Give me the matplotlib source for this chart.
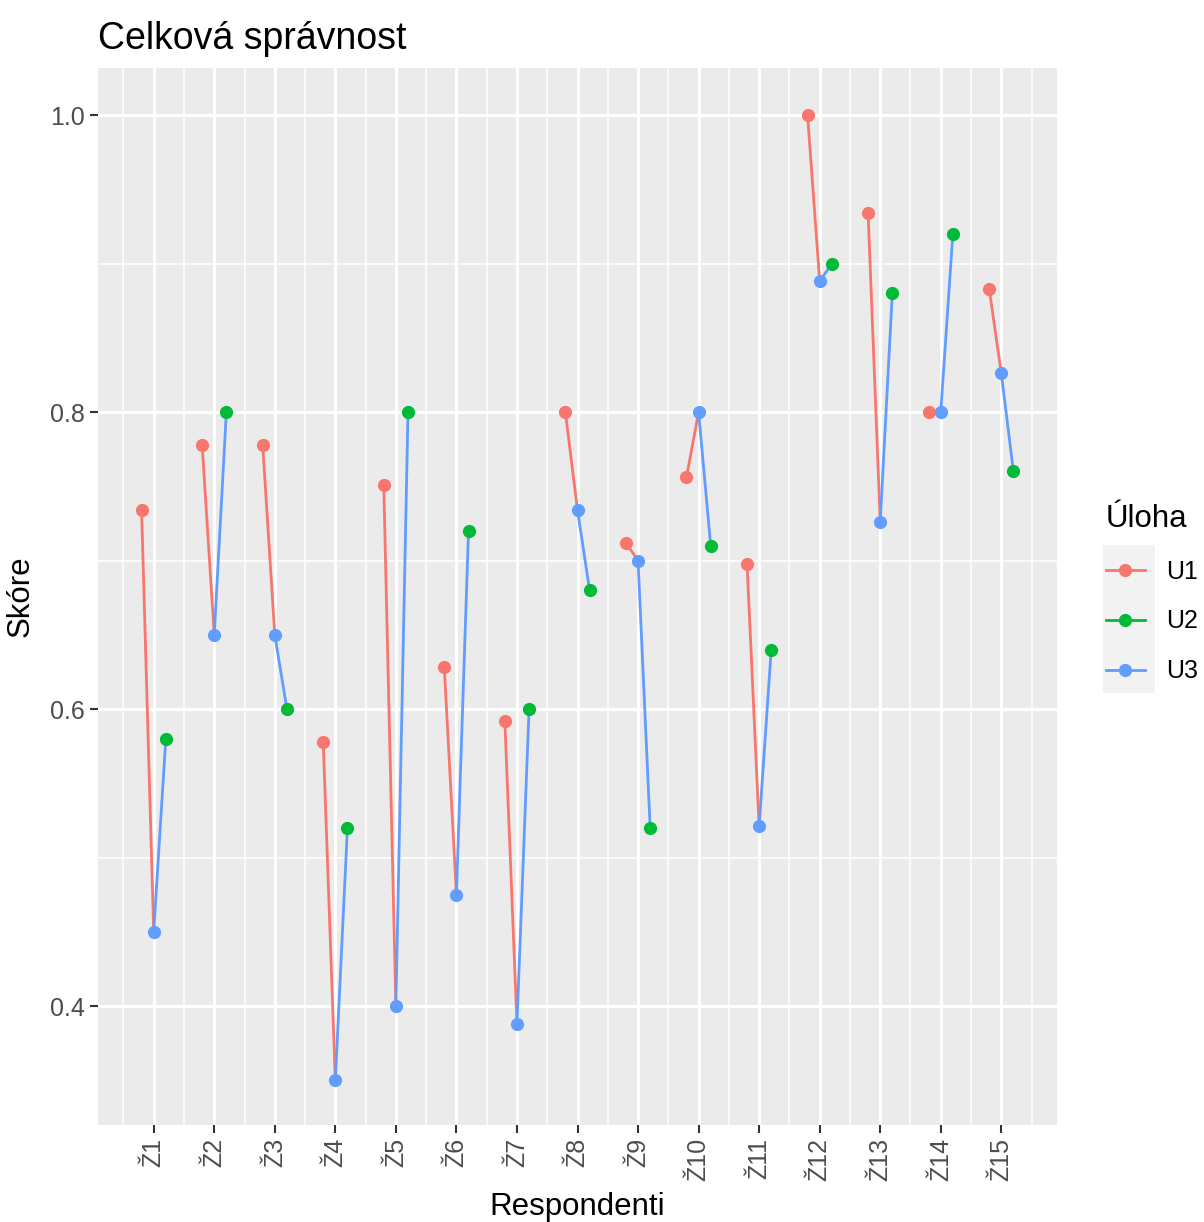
import matplotlib
matplotlib.use("Agg")
import matplotlib.pyplot as plt
from matplotlib.lines import Line2D
from matplotlib.patches import Rectangle
import numpy as np

plt.rcParams['font.family'] = ['Liberation Sans', 'DejaVu Sans']

respondents = ["Ž1", "Ž2", "Ž3", "Ž4", "Ž5", "Ž6", "Ž7", "Ž8", "Ž9", "Ž10",
               "Ž11", "Ž12", "Ž13", "Ž14", "Ž15"]
u1 = [0.734, 0.778, 0.778, 0.578, 0.751, 0.628, 0.592, 0.800, 0.712, 0.756,
      0.698, 1.000, 0.934, 0.800, 0.883]
u2 = [0.580, 0.800, 0.600, 0.520, 0.800, 0.720, 0.600, 0.680, 0.520, 0.710,
      0.640, 0.900, 0.880, 0.920, 0.760]
u3 = [0.450, 0.650, 0.650, 0.350, 0.400, 0.475, 0.388, 0.734, 0.700, 0.800,
      0.521, 0.888, 0.726, 0.800, 0.826]
tasks = ["U1", "U2", "U3"]
colors = {"U1": "#F8766D", "U2": "#00BA38", "U3": "#619CFF"}
offsets = {"U1": -0.2, "U2": 0.2, "U3": 0.0}

fig = plt.figure(figsize=(12.04, 12.22), dpi=100)
ax = fig.add_axes([98/1204, 1-1125/1222, (1057-98)/1204, (1125-68)/1222])
ax.set_facecolor("#EBEBEB")

x = np.arange(1, len(respondents) + 1)
vals = {"U1": np.array(u1), "U2": np.array(u2), "U3": np.array(u3)}
xs = {k: x + offsets[k] for k in tasks}

lw = 2.0
for i in range(len(x)):
    ax.plot([xs["U1"][i], xs["U3"][i]], [vals["U1"][i], vals["U3"][i]],
            color=colors["U1"], lw=lw, zorder=3, solid_capstyle='butt')
    ax.plot([xs["U3"][i], xs["U2"][i]], [vals["U3"][i], vals["U2"][i]],
            color=colors["U3"], lw=lw, zorder=3, solid_capstyle='butt')

for k in tasks:
    ax.plot(xs[k], vals[k], 'o', color=colors[k], markersize=9.5,
            markeredgewidth=0, zorder=4)

ax.set_xlim(0.08, 15.92)
ax.set_ylim(0.3199, 1.0317)
ax.set_xticks(x)
ax.set_xticklabels(respondents, rotation=90, fontsize=18, color="#4D4D4D")
ax.set_xticks(np.arange(0.5, 16, 1.0), minor=True)
ax.set_yticks([0.4, 0.6, 0.8, 1.0])
ax.set_yticklabels(["0.4", "0.6", "0.8", "1.0"], fontsize=18, color="#4D4D4D")
ax.set_yticks([0.5, 0.7, 0.9], minor=True)
ax.grid(which='major', color='white', lw=2.2)
ax.grid(which='minor', color='white', lw=1.1)
ax.set_axisbelow(True)
ax.tick_params(which='major', length=5.5, width=1.5, color="#333333", pad=4)
ax.tick_params(which='minor', length=0)
for s in ax.spines.values():
    s.set_visible(False)

ax.set_xlabel("Respondenti", fontsize=22.5, labelpad=8)
ax.set_ylabel("Skóre", fontsize=22.5, labelpad=10)
ax.set_title("Celková správnost", fontsize=27, loc='left', pad=14)

handles = [Line2D([0], [0], color=colors[k], lw=lw, marker='o', markersize=9.5,
                  markeredgewidth=0) for k in tasks]
fig.add_artist(Rectangle((1103/1204, 1-693/1222), 52/1204, 148/1222,
                         transform=fig.transFigure, facecolor="#F2F2F2",
                         edgecolor='none', zorder=0))
leg = fig.legend(handles, tasks, loc='upper left',
                 bbox_to_anchor=(1106/1204, 1-504/1222), frameon=False,
                 fontsize=18, title="Úloha", title_fontsize=22.5,
                 handlelength=1.55, handletextpad=0.85, labelspacing=1.03,
                 borderpad=0, borderaxespad=0, alignment='left')

fig.savefig("out.png", dpi=100, facecolor='white')
